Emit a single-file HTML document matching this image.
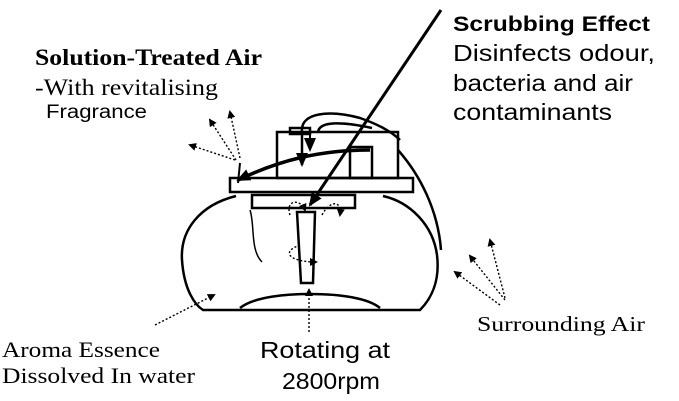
<!DOCTYPE html>
<html><head><style>
body{margin:0;background:#fff;width:679px;height:401px;overflow:hidden}
svg{display:block}
.s{font-family:"Liberation Sans",sans-serif}
.r{font-family:"Liberation Serif",serif}
</style></head><body>
<svg width="679" height="401" viewBox="0 0 679 401" xmlns="http://www.w3.org/2000/svg">
<defs>
<marker id="a" markerWidth="8" markerHeight="8" refX="6" refY="4" orient="auto" markerUnits="userSpaceOnUse"><path d="M0,0 L8,4 L0,8 Z" fill="#000"/></marker>
<marker id="b" markerWidth="14" markerHeight="12" refX="12" refY="6" orient="auto" markerUnits="userSpaceOnUse"><path d="M0,0 L14,6 L0,12 Z" fill="#000"/></marker>
</defs>
<g fill="none" stroke="#000" stroke-width="2.5">
<path d="M236,196 C200,205 180,230 182,260 C184,290 195,305 203,310 L420,310 C432,298 440,280 437,255 C433,225 410,202 383,196"/>
<path d="M240,308 C255,296 290,294 310,294 C340,294 368,298 380,308"/>
<rect x="230" y="178" width="183" height="14"/>
<rect x="252" y="195" width="103" height="13"/>
<rect x="277" y="132" width="121" height="46"/>
<rect x="350" y="147" width="22" height="31"/>
<rect x="290" y="128" width="20" height="6"/>
<path d="M297,212 L315,212 L313,283 L301,283 Z"/>
<path d="M302,132 C300,112 330,110 360,118 C380,125 392,132 400,140"/>
<path d="M318,133 C318,120 345,122 372,128"/>
<path d="M398,150 C420,175 438,210 441,250"/>
<path d="M250,210 C255,225 250,250 262,262" stroke-width="1.5"/>
<path d="M441,10 L310,205" stroke-width="3" marker-end="url(#b)"/>
<path d="M370,150 C320,150 280,160 238,180" stroke-width="3.5" marker-end="url(#b)"/>
<path d="M302,135 L302,165" stroke-width="2.5" marker-end="url(#b)"/>
<path d="M310,135 L310,150" stroke-width="2" marker-end="url(#b)"/>
<path d="M238,183 L240,163" stroke-width="2"/>
</g>
<g fill="none" stroke="#000" stroke-width="1.4" stroke-dasharray="2,2" marker-end="url(#a)">
<path d="M235,160 L190,145"/>
<path d="M236,160 L210,120"/>
<path d="M240,158 L230,112"/>
<path d="M500,305 L455,272"/>
<path d="M505,300 L470,256"/>
<path d="M505,298 L490,240"/>
<path d="M155,325 L214,295"/>
<path d="M309,332 L309,290"/>
<path d="M290,215 C285,200 300,198 305,210"/>
<path d="M322,215 C330,200 342,200 340,215"/>
<path d="M300,245 C280,252 290,262 316,262"/>
</g>
<g lengthAdjust="spacingAndGlyphs">
<text x="453" y="31" class="s" font-size="21" font-weight="bold" textLength="197" lengthAdjust="spacingAndGlyphs">Scrubbing Effect</text>
<text x="453" y="61" class="s" font-size="23" textLength="202" lengthAdjust="spacingAndGlyphs">Disinfects  odour,</text>
<text x="453" y="91" class="s" font-size="23" textLength="180" lengthAdjust="spacingAndGlyphs">bacteria and air</text>
<text x="453" y="120" class="s" font-size="23" textLength="159" lengthAdjust="spacingAndGlyphs">contaminants</text>
<text x="35" y="65" class="r" font-size="23" font-weight="bold" textLength="227" lengthAdjust="spacingAndGlyphs">Solution-Treated Air</text>
<text x="35" y="95" class="r" font-size="23" textLength="183" lengthAdjust="spacingAndGlyphs">-With revitalising</text>
<text x="46" y="118" class="s" font-size="19" textLength="101" lengthAdjust="spacingAndGlyphs">Fragrance</text>
<text x="477" y="331" class="r" font-size="21" textLength="168" lengthAdjust="spacingAndGlyphs">Surrounding Air</text>
<text x="2" y="357" class="r" font-size="22" textLength="158" lengthAdjust="spacingAndGlyphs">Aroma Essence</text>
<text x="2" y="383" class="r" font-size="22" textLength="193" lengthAdjust="spacingAndGlyphs">Dissolved In water</text>
<text x="260" y="358" class="s" font-size="23" textLength="130" lengthAdjust="spacingAndGlyphs">Rotating at</text>
<text x="282" y="389" class="s" font-size="23" textLength="98" lengthAdjust="spacingAndGlyphs">2800rpm</text>
</g>
</svg>
</body></html>
